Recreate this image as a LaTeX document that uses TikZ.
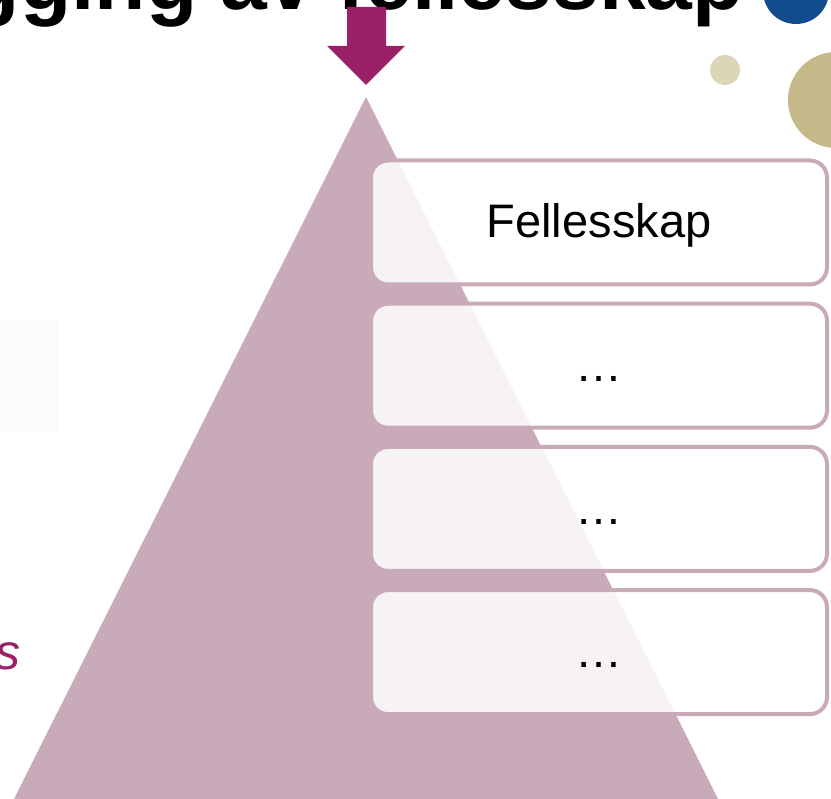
\documentclass[tikz,border=0pt]{standalone}
\usepackage{fontspec}
\setmainfont{Liberation Sans}
\definecolor{pyramid}{HTML}{C9AAB9}
\definecolor{plum}{HTML}{9B2068}
\definecolor{navy}{HTML}{124B8E}
\definecolor{sand}{HTML}{DCD6B6}
\definecolor{khaki}{HTML}{C5B889}
\tikzset{layer/.style={draw=pyramid, line width=4pt, rounded corners=17pt,
  fill=white, fill opacity=0.86, text opacity=1,
  minimum width=456pt, minimum height=124pt, text height=36pt, text depth=5pt,
  font=\fontsize{47}{50}\selectfont}}

\begin{document}
\begin{tikzpicture}[x=1pt,y=-1pt]
\useasboundingbox (0,0) rectangle (831,799);
\clip (0,0) rectangle (831,799);
\fill[black!1.5] (0,320) rectangle (58,432);
\fill[navy] (796,-9) circle (33pt);
\fill[sand] (725,70) circle (15pt);
\fill[khaki] (836,100) circle (48pt);
\node[anchor=base east, inner sep=0pt, font=\fontsize{84}{90}\selectfont\bfseries] (title) at (744,10) {gging av fellesskap};
\fill[plum] (347,7) -- (386,7) -- (386,46) -- (405,46) -- (366,85) -- (327,46) -- (347,46) -- cycle;
% pyramid
\fill[pyramid] (366,97) -- (718,799) -- (14,799) -- cycle;
\node[anchor=base east, inner sep=0pt, text=plum, font=\fontsize{50}{54}\selectfont\itshape] (tail) at (21,670) {s};
\foreach \t [count=\i] in {Fellesskap,…,…,…}
  \node[layer] (layer\i) at (599,{222.5+143.2*(\i-1)}) {\t};
\end{tikzpicture}
\end{document}
